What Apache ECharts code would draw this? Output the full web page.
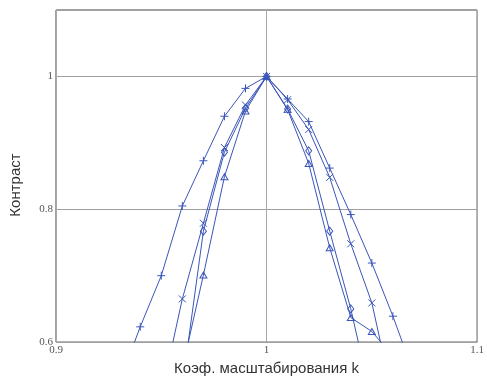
<!DOCTYPE html>
<html><head><meta charset="utf-8">
<script src="https://cdn.jsdelivr.net/npm/echarts@6/dist/echarts.min.js"></script>
<style>html,body{margin:0;padding:0;background:#fff}#c{width:487px;height:381px}</style>
</head><body><div id="c"></div>
<script>
var kPlus = [0.93,0.94,0.95,0.96,0.97,0.98,0.99,1.00,1.01,1.02,1.03,1.04,1.05,1.06,1.07];
var plusVals = [0.538,0.623,0.700,0.805,0.873,0.940,0.982,1.000,0.966,0.932,0.862,0.792,0.719,0.639,0.552];
var kCross = [0.95,0.96,0.97,0.98,0.99,1.00,1.01,1.02,1.03,1.04,1.05,1.06];
var crossVals = [0.520,0.665,0.779,0.893,0.957,1.000,0.965,0.920,0.848,0.748,0.659,0.516];
var kDiamond = [0.96,0.97,0.98,0.99,1.00,1.01,1.02,1.03,1.04,1.05];
var diamondVals = [0.535,0.767,0.886,0.952,1.000,0.951,0.888,0.767,0.650,0.510];
var kTri = [0.96,0.97,0.98,0.99,1.00,1.01,1.02,1.03,1.04,1.05,1.06];
var triVals = [0.560,0.701,0.849,0.948,1.000,0.950,0.869,0.742,0.637,0.616,0.579];
var xTicks = ['0.9','1','1.1'];
var yTicks = ['0.6','0.8','1'];

function pairs(xs, ys){ return xs.map(function(x,i){ return [x, ys[i]]; }); }
var lineColor = '#3a55b8';
function mk(name, xs, ys, sym, size){
  return {
    name: name, type: 'line', data: pairs(xs, ys), clip: true,
    symbol: sym, symbolSize: size, showAllSymbol: true,
    lineStyle: {color: lineColor, width: 1},
    itemStyle: {color: 'rgba(0,0,0,0)', borderColor: lineColor, borderWidth: 1},
    emphasis: {disabled: true}, silent: true
  };
}
var chart = echarts.init(document.getElementById('c'));
chart.setOption({
  animation: false,
  grid: {left: 56, right: 6, top: 10, bottom: 33, show: true, borderColor: '#444', borderWidth: 1, backgroundColor: 'transparent'},
  xAxis: {
    type: 'value', min: 0.9, max: 1.1, interval: 0.1,
    name: 'Коэф. масштабирования k', nameLocation: 'middle', nameGap: 16,
    nameTextStyle: {fontFamily: 'Liberation Sans', fontSize: 15, color: '#333'},
    axisLine: {show: false}, axisTick: {show: false},
    axisLabel: {margin: 3, fontFamily: 'Liberation Serif', fontSize: 11, color: '#555',
      formatter: function(v){ var s = String(Math.round(v*10)/10); return xTicks.indexOf(s) >= 0 ? s : ''; }},
    splitLine: {show: true, lineStyle: {color: '#a8a8a8', width: 1}}
  },
  yAxis: {
    type: 'value', min: 0.6, max: 1.1, interval: 0.2,
    name: 'Контраст', nameLocation: 'middle', nameGap: 33,
    nameTextStyle: {fontFamily: 'Liberation Sans', fontSize: 15, color: '#333', padding: [0, 18, 0, 0]},
    axisLine: {show: false}, axisTick: {show: false},
    axisLabel: {margin: 3, fontFamily: 'Liberation Serif', fontSize: 11, color: '#555',
      formatter: function(v){ var s = String(Math.round(v*10)/10); return yTicks.indexOf(s) >= 0 ? s : ''; }},
    splitLine: {show: true, lineStyle: {color: '#a0a0a0', width: 1}}
  },
  series: [
    mk('plus', kPlus, plusVals, 'path://M0,4L8,4M4,0L4,8', 8),
    mk('cross', kCross, crossVals, 'path://M0,0L8,8M8,0L0,8', 7),
    mk('diamond', kDiamond, diamondVals, 'path://M4,0L8,5L4,10L0,5Z', [6,8]),
    mk('triangle', kTri, triVals, 'path://M5,0L10,9L0,9Z', [7,6])
  ]
});
</script></body></html>
